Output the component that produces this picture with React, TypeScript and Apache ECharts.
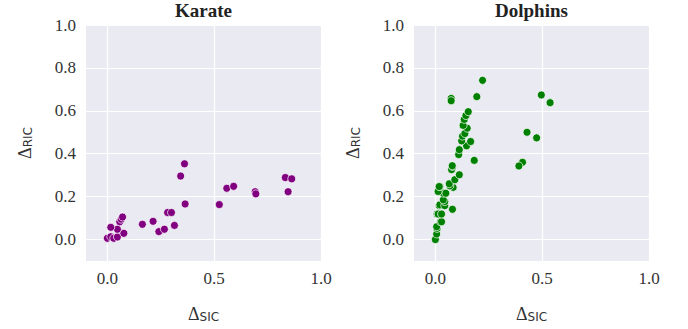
import React, { useEffect, useRef } from "react";
import * as echarts from "echarts";

const titles = ["Karate", "Dolphins"];
const colors = ["#800080", "#008000"];

const karateX = [0.0, 0.016, 0.03, 0.047, 0.077, 0.047, 0.016, 0.058, 0.065, 0.071, 0.164, 0.214, 0.241, 0.267, 0.282, 0.3, 0.314, 0.364, 0.343, 0.361, 0.524, 0.559, 0.591, 0.692, 0.695, 0.833, 0.863, 0.846];
const karateY = [0.006, 0.013, 0.006, 0.012, 0.029, 0.048, 0.057, 0.083, 0.095, 0.105, 0.071, 0.085, 0.037, 0.048, 0.126, 0.126, 0.066, 0.166, 0.296, 0.353, 0.163, 0.239, 0.248, 0.223, 0.213, 0.289, 0.283, 0.223];

const dolphinsX = [0.0, 0.006, 0.008, 0.006, 0.024, 0.029, 0.008, 0.013, 0.029, 0.08, 0.018, 0.021, 0.044, 0.044, 0.037, 0.037, 0.049, 0.013, 0.021, 0.018, 0.083, 0.068, 0.065, 0.091, 0.112, 0.076, 0.08, 0.079, 0.109, 0.112, 0.146, 0.123, 0.165, 0.127, 0.138, 0.149, 0.13, 0.135, 0.143, 0.154, 0.182, 0.074, 0.074, 0.194, 0.221, 0.496, 0.537, 0.429, 0.474, 0.408, 0.391];
const dolphinsY = [0.0, 0.026, 0.052, 0.06, 0.083, 0.083, 0.119, 0.119, 0.119, 0.141, 0.158, 0.162, 0.158, 0.177, 0.185, 0.216, 0.216, 0.224, 0.247, 0.247, 0.243, 0.25, 0.26, 0.279, 0.302, 0.326, 0.341, 0.344, 0.396, 0.419, 0.437, 0.46, 0.457, 0.482, 0.494, 0.519, 0.532, 0.56, 0.578, 0.596, 0.369, 0.658, 0.647, 0.666, 0.742, 0.674, 0.638, 0.5, 0.474, 0.36, 0.343];

const xTickStep = 0.5;
const yTickStep = 0.2;
const axisMin = -0.1;
const axisMax = 1.0;

const SERIF = "'Liberation Serif', 'DejaVu Serif', serif";
const SANS = "'DejaVu Sans', sans-serif";
const TXT = "#333333";

const isMultiple = (v: number, step: number) => {
  const r = v / step;
  return Math.abs(r - Math.round(r)) < 1e-6 && v > -1e-6;
};

const zip = (xs: number[], ys: number[]) => xs.map((x, i) => [x, ys[i]]);

export default function App() {
  const ref = useRef<HTMLDivElement>(null);
  useEffect(() => {
    if (!ref.current) return;
    const chart = echarts.init(ref.current, null, { renderer: "svg" });
    const T = "rgba(0,0,0,0)";
    const gridLefts = [86, 414];
    const nameRich = {
      d: { fontFamily: SERIF, fontSize: 18, color: TXT },
      s: { fontFamily: SANS, fontSize: 12, color: TXT, padding: [5, 0, 0, 0] },
    };
    const mkX = (i: number) => ({
      type: "value",
      gridIndex: i,
      min: axisMin,
      max: axisMax,
      interval: 0.1,
      axisLine: { show: false },
      axisTick: { show: false },
      splitLine: {
        show: true,
        lineStyle: { color: [T, "#ffffff", T, T, T], width: 1.2 },
      },
      axisLabel: {
        margin: 9,
        fontFamily: SERIF,
        fontSize: 17,
        color: TXT,
        formatter: (v: number) => (isMultiple(v, xTickStep) ? v.toFixed(1) : ""),
      },
      name: "{d|Δ}{s|SIC}",
      nameLocation: "middle",
      nameGap: 44,
      nameTextStyle: { rich: nameRich },
    });
    const mkY = (i: number) => ({
      type: "value",
      gridIndex: i,
      min: axisMin,
      max: axisMax,
      interval: 0.1,
      axisLine: { show: false },
      axisTick: { show: false },
      splitLine: {
        show: true,
        lineStyle: { color: [T, "#ffffff"], width: 1.2 },
      },
      axisLabel: {
        margin: 10,
        fontFamily: SERIF,
        fontSize: 17,
        color: TXT,
        formatter: (v: number) => (isMultiple(v, yTickStep) ? v.toFixed(1) : ""),
      },
      name: "{d|Δ}{s|RIC}",
      nameLocation: "middle",
      nameRotate: 90,
      nameGap: 52,
      nameTextStyle: { rich: nameRich },
    });
    const datasets = [zip(karateX, karateY), zip(dolphinsX, dolphinsY)];
    chart.setOption({
      animation: false,
      title: titles.map((t, i) => ({
        text: t,
        left: i === 0 ? 175 : 495,
        top: 1,
        padding: 0,
        textStyle: { fontFamily: SERIF, fontSize: 19, fontWeight: "bold", color: "#222" },
      })),
      grid: gridLefts.map((l) => ({
        left: l,
        top: 25,
        width: 235,
        height: 236,
        show: true,
        backgroundColor: "#EAEAF2",
        borderWidth: 0,
      })),
      xAxis: [mkX(0), mkX(1)],
      yAxis: [mkY(0), mkY(1)],
      series: datasets.map((d, i) => ({
        type: "scatter",
        xAxisIndex: i,
        yAxisIndex: i,
        data: d,
        symbol: "circle",
        symbolSize: 8,
        itemStyle: { color: colors[i], borderColor: "#ffffff", borderWidth: 0.7, opacity: 1 },
      })),
    });
    return () => chart.dispose();
  }, []);
  return <div ref={ref} style={{ width: 688, height: 329, position: "absolute", left: 0, top: 0 }} />;
}
